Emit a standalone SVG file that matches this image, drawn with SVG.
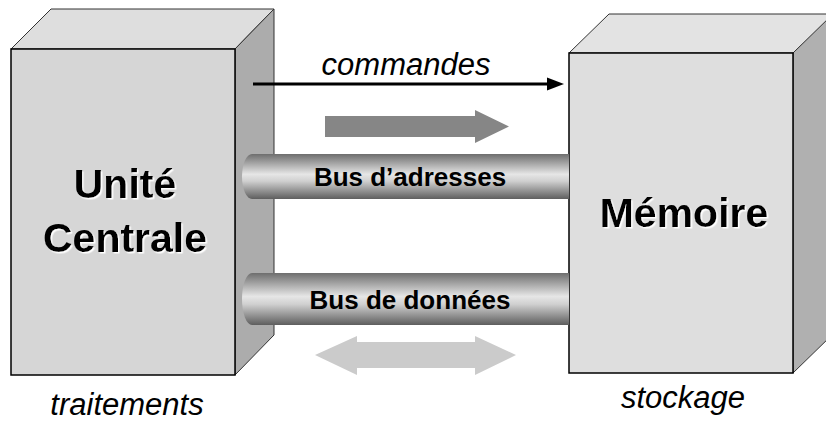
<svg xmlns="http://www.w3.org/2000/svg" width="826" height="421" viewBox="0 0 826 421">
  <style>
    .edge { stroke: #000; stroke-width: 1.5; stroke-linejoin: miter; }
    .thin { stroke: #333; stroke-width: 1; }
    .title { font-family: "Liberation Sans", Arial, sans-serif; font-weight: bold; font-size: 41px; fill: #000; text-anchor: middle; }
    .bus-label { font-family: "Liberation Sans", Arial, sans-serif; font-weight: bold; font-size: 26px; fill: #000; text-anchor: middle; }
    .note { font-family: "Liberation Sans", Arial, sans-serif; font-style: italic; font-size: 31px; fill: #000; text-anchor: middle; }
  </style>
  <defs>
    <linearGradient id="busShade" x1="0" y1="0" x2="0" y2="1">
      <stop offset="0" stop-color="#6e6e6e"/>
      <stop offset="0.45" stop-color="#e6e6e6"/>
      <stop offset="0.6" stop-color="#d0d0d0"/>
      <stop offset="1" stop-color="#5e5e5e"/>
    </linearGradient>
    <filter id="emboss" x="-5%" y="-10%" width="115%" height="130%">
      <feDropShadow dx="1.5" dy="1.5" stdDeviation="0.3" flood-color="#ffffff" flood-opacity="1"/>
    </filter>
  </defs>

  <rect width="826" height="421" fill="#ffffff"/>

  <!-- processing unit block -->
  <g id="unite-centrale">
    <polygon class="thin" points="11,49 51,9 274,9 235,49" fill="#dedede"/>
    <polygon class="thin" points="235,49 274,9 274,335 235,375" fill="#acacac"/>
    <rect class="edge" x="11" y="49" width="224" height="326" fill="#d6d6d6"/>
    <g filter="url(#emboss)">
      <text class="title" x="125" y="198">Unité</text>
      <text class="title" x="125" y="252">Centrale</text>
    </g>
    <text class="note" x="127" y="415">traitements</text>
  </g>

  <!-- memory block -->
  <g id="memoire">
    <polygon class="thin" points="569,53 609,14 836,14 793,53" fill="#e3e3e3"/>
    <polygon class="thin" points="793,53 833,14 833,334 793,373" fill="#b0b0b0"/>
    <rect class="edge" x="569" y="53" width="224" height="320" fill="#dedede"/>
    <text class="title" x="684" y="227" filter="url(#emboss)">Mémoire</text>
    <text class="note" x="683" y="408">stockage</text>
  </g>

  <!-- buses and flow arrows -->
  <g id="connectors">
    <g id="bus-adresses">
      <path d="M252,154 H569 V199 H252 A10,22.5 0 0 1 252,154 Z" fill="url(#busShade)"/>
      <text class="bus-label" x="410" y="186">Bus d’adresses</text>
    </g>
    <g id="bus-donnees">
      <path d="M252,273 H569 V325 H252 A10,26 0 0 1 252,273 Z" fill="url(#busShade)"/>
      <text class="bus-label" x="410" y="309">Bus de données</text>
    </g>

    <g id="commandes">
      <line x1="253" y1="84" x2="550" y2="84" stroke="#000" stroke-width="3"/>
      <polygon points="547,77.5 564,84 547,90.5" fill="#000"/>
      <text class="note" x="406" y="75">commandes</text>
    </g>

    <polygon id="address-flow" points="325,116 475,116 475,110 509,126.5 475,143 475,137 325,137" fill="#868686"/>
    <polygon id="data-flow" points="315,355 357,336 357,342 475,342 475,336 516,355 475,375 475,368 357,368 357,375" fill="#cbcbcb"/>
  </g>
</svg>
